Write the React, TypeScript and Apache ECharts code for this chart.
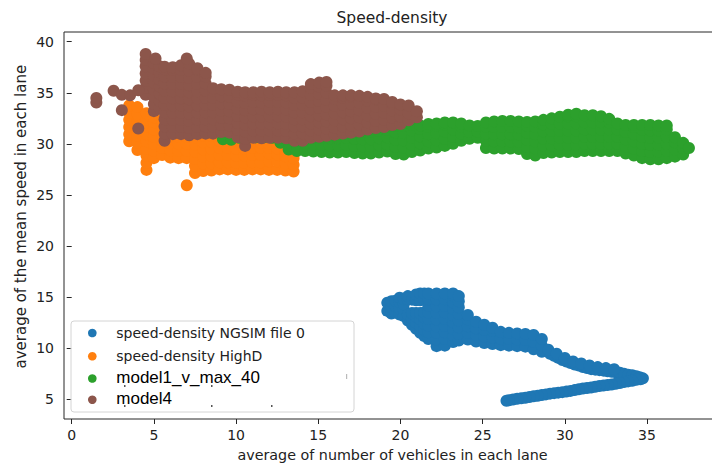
import React, { useEffect, useRef } from "react";
import * as echarts from "echarts";

// ---- axis ticks ----
const xTicks = [0, 5, 10, 15, 20, 25, 30, 35];
const yTicks = [5, 10, 15, 20, 25, 30, 35, 40];

// ---- series names ----
const seriesNames = [
  "speed-density NGSIM file 0",
  "speed-density HighD",
  "model1_v_max_40",
  "model4",
];
const seriesColors = ["#1f77b4", "#ff7f0e", "#2ca02c", "#8c564b"];

// Each column: [density, speed, speed, ...]
const ngsimColumns: number[][] = [
  [19.2, 13.65, 14.45],
  [19.45, 13.4, 14.0, 14.6],
  [19.7, 13.5, 14.1, 14.65],
  [19.95, 13.3, 13.9, 14.5, 14.95],
  [20.2, 13.15, 13.8, 14.3, 14.8],
  [20.45, 12.7, 13.3, 14.75, 15.1],
  [20.7, 12.3, 12.9, 13.45, 14.75],
  [20.95, 11.9, 12.5, 13.1, 13.45, 14.7, 15.25],
  [21.2, 11.5, 12.15, 12.8, 13.45, 14.7, 15.35],
  [21.45, 11.2, 11.8, 12.4, 13.0, 13.5, 14.75, 15.35],
  [21.7, 10.9, 11.55, 12.2, 12.85, 13.5, 14.15, 14.8, 15.35],
  [22.2, 10.2, 10.85, 11.5, 12.15, 12.8, 13.45, 14.1, 14.75, 15.35],
  [22.7, 10.25, 10.9, 11.55, 12.2, 12.85, 13.5, 14.15, 14.8, 15.35],
  [23.2, 10.6, 11.25, 11.9, 12.55, 13.2, 13.85, 14.5, 15.15, 15.35],
  [23.55, 10.75, 11.4, 12.05, 12.7, 13.35, 14.0, 14.6, 15.1],
  [24.1, 10.85, 11.5, 12.15, 12.8, 13.25],
  [24.6, 10.65, 11.3, 11.95, 12.6],
  [25.1, 10.5, 11.15, 11.8, 12.3],
  [25.6, 10.4, 11.05, 11.7, 12.0],
  [26.1, 10.3, 10.95, 11.6],
  [26.6, 10.25, 10.9, 11.5],
  [27.1, 10.2, 10.85, 11.45],
  [27.6, 10.15, 10.8, 11.4],
  [28.1, 9.9, 10.6, 11.3],
  [28.6, 9.65, 10.25, 10.9],
];
// the trail going right and coming back: [density, speed]
const ngsimTrail: number[][] = [
  [29.1, 9.45], [29.35, 9.25], [29.6, 9.05], [29.85, 8.85], [30.1, 8.7],
  [30.35, 8.55], [30.6, 8.4], [30.85, 8.3], [31.1, 8.15], [31.35, 8.05],
  [31.6, 7.95], [31.85, 7.9], [32.1, 7.85], [32.35, 7.8], [32.6, 7.75],
  [32.85, 7.7], [33.1, 7.65], [33.35, 7.6], [33.6, 7.5], [33.85, 7.4],
  [34.1, 7.35], [34.35, 7.25], [34.55, 7.15], [34.75, 7.05],
  [29.0, 9.85], [29.5, 9.45], [30.0, 9.05], [30.5, 8.7], [31.0, 8.5],
  [31.5, 8.3], [32.0, 8.15], [32.5, 8.05], [33.0, 7.95],
  [34.6, 6.95], [34.35, 6.9], [34.1, 6.82], [33.85, 6.75], [33.6, 6.68],
  [33.35, 6.6], [33.1, 6.52], [32.85, 6.45], [32.6, 6.4], [32.35, 6.35],
  [32.1, 6.3], [31.85, 6.22], [31.6, 6.15], [31.35, 6.1], [31.1, 6.05],
  [30.85, 5.98], [30.6, 5.9], [30.35, 5.82], [30.1, 5.75], [29.85, 5.7],
  [29.6, 5.65], [29.35, 5.6], [29.1, 5.55], [28.85, 5.48], [28.6, 5.42],
  [28.35, 5.35], [28.1, 5.3], [27.85, 5.22], [27.6, 5.15], [27.35, 5.1],
  [27.1, 5.05], [26.85, 4.98], [26.6, 4.9], [26.45, 4.85],
];

const highdColumns: number[][] = [
  [3.5, 30.25, 30.95, 31.65, 32.35, 33.05, 33.75],
  [4.0, 29.4, 30.1, 30.8, 31.5, 32.2, 32.9, 33.6],
  [4.55, 27.45, 28.15, 28.85, 29.55, 30.25, 30.95, 31.65, 32.35, 33.0],
  [5.0, 28.6, 29.3, 30.0, 30.7, 31.4, 32.1, 32.6],
  [5.5, 28.9, 29.6, 30.3, 31.0, 31.7, 32.3],
  [6.0, 28.65, 29.35, 30.05, 30.75, 31.3],
  [6.5, 28.6, 29.3, 30.0, 30.7, 31.2],
  [7.0, 25.95, 28.6, 29.3, 30.0, 30.7],
  [7.5, 27.15, 27.85, 28.55, 29.25, 29.95, 30.65],
  [8.0, 27.35, 28.05, 28.75, 29.45, 30.15, 30.8],
  [8.5, 27.4, 28.1, 28.8, 29.5, 30.2, 30.8],
  [9.0, 27.5, 28.2, 28.9, 29.6, 30.3, 30.8],
  [9.5, 27.5, 28.2, 28.9, 29.6, 30.3],
  [10.0, 27.45, 28.15, 28.85, 29.55, 30.2],
  [10.5, 27.45, 28.15, 28.85, 29.55, 30.1],
  [11.0, 27.5, 28.2, 28.9, 29.6, 30.1],
  [11.5, 27.5, 28.2, 28.9, 29.6, 30.1],
  [12.0, 27.45, 28.3, 29.05, 29.6, 30.0],
  [12.5, 27.45, 28.3, 28.95, 29.55],
  [13.0, 27.4, 28.1, 28.8, 29.4],
  [13.5, 27.3, 27.95, 28.6],
];

const model1Columns: number[][] = [
  [9.2, 30.45, 31.15],
  [9.7, 30.4, 31.1, 31.8],
  [10.2, 30.6, 31.3, 31.9],
  [10.7, 30.65, 31.35, 31.95],
  [11.2, 30.65, 31.35, 31.95],
  [11.7, 30.65, 31.35, 31.95],
  [12.2, 30.6, 31.3, 31.9],
  [12.7, 30.1, 30.8, 31.5, 32.0],
  [13.2, 29.45, 30.15, 30.85, 31.55],
  [13.7, 29.3, 30.0, 30.7, 31.4],
  [14.2, 29.3, 30.0, 30.7, 31.4],
  [14.7, 29.25, 29.95, 30.65, 31.35],
  [15.2, 29.2, 29.9, 30.6, 31.3],
  [15.7, 29.15, 29.85, 30.55, 31.25],
  [16.2, 29.15, 29.85, 30.55, 31.25],
  [16.7, 29.2, 29.9, 30.6, 31.3],
  [17.2, 29.1, 29.8, 30.5, 31.2, 31.9],
  [17.7, 29.05, 29.75, 30.45, 31.15, 31.85],
  [18.2, 29.05, 29.75, 30.45, 31.15, 31.85],
  [18.7, 29.15, 29.85, 30.55, 31.25, 31.9],
  [19.2, 29.25, 29.95, 30.65, 31.35, 31.9],
  [19.7, 29.0, 29.7, 30.4, 31.1, 31.8],
  [20.2, 28.95, 29.65, 30.35, 31.05, 31.75],
  [20.7, 29.2, 29.9, 30.6, 31.3, 31.85],
  [21.2, 29.35, 30.05, 30.75, 31.45, 31.8],
  [21.7, 29.55, 30.25, 30.95, 31.65, 31.95],
  [22.2, 29.65, 30.35, 31.05, 31.75, 32.0],
  [22.7, 29.8, 30.5, 31.2, 31.9, 32.1],
  [23.2, 30.0, 30.7, 31.4, 32.1],
  [23.7, 30.3, 31.0, 31.7, 32.0],
  [24.2, 30.5, 31.15, 31.8],
  [24.7, 30.6, 31.2, 31.75],
  [25.2, 29.6, 30.3, 31.0, 31.7, 32.1],
  [25.7, 29.55, 30.25, 30.95, 31.65, 32.2],
  [26.2, 29.55, 30.25, 30.95, 31.65, 32.25],
  [26.7, 29.55, 30.25, 30.95, 31.65, 32.25],
  [27.2, 29.5, 30.2, 30.9, 31.6, 32.2],
  [27.7, 29.0, 29.7, 30.4, 31.1, 31.8, 32.15],
  [28.2, 28.85, 29.55, 30.25, 30.95, 31.65, 32.2],
  [28.7, 29.1, 29.8, 30.5, 31.2, 31.9, 32.35],
  [29.2, 29.15, 29.85, 30.55, 31.25, 31.95, 32.5],
  [29.7, 29.2, 29.9, 30.6, 31.3, 32.0, 32.65],
  [30.2, 29.2, 29.9, 30.6, 31.3, 32.0, 32.7, 32.85],
  [30.7, 29.2, 29.9, 30.6, 31.3, 32.0, 32.7, 32.95],
  [31.2, 29.3, 30.0, 30.7, 31.4, 32.1, 32.8],
  [31.7, 29.3, 30.0, 30.7, 31.4, 32.1, 32.8],
  [32.2, 29.3, 30.0, 30.7, 31.4, 32.1, 32.7],
  [32.7, 29.3, 30.0, 30.7, 31.4, 32.1, 32.45],
  [33.2, 29.3, 30.0, 30.7, 31.4, 32.0],
  [33.7, 29.05, 29.75, 30.45, 31.15, 31.85],
  [34.2, 28.85, 29.55, 30.25, 30.95, 31.65, 31.85],
  [34.7, 28.6, 29.3, 30.0, 30.7, 31.4, 31.85],
  [35.2, 28.5, 29.2, 29.9, 30.6, 31.3, 31.85],
  [35.7, 28.5, 29.2, 29.9, 30.6, 31.3, 31.8],
  [36.2, 28.6, 29.3, 30.0, 30.7, 31.4, 31.8],
  [36.7, 28.75, 29.45, 30.15, 30.65],
  [37.2, 28.95, 29.6, 30.1],
  [37.55, 29.6],
];

const model4Columns: number[][] = [
  [4.5, 34.8, 35.5, 36.2, 36.9, 37.6, 38.2, 38.8],
  [5.0, 33.2, 33.9, 34.6, 35.3, 36.0, 36.7, 37.4, 37.9],
  [5.35, 33.5, 34.2, 34.9, 35.6, 36.3, 37.0, 37.6],
  [5.65, 30.3, 31.0, 31.7, 32.4, 33.1, 33.8, 34.5, 35.2, 35.9, 36.6, 37.3, 37.55],
  [6.15, 30.95, 31.65, 32.35, 33.05, 33.75, 34.45, 35.15, 35.85, 36.55, 37.25, 37.5],
  [6.65, 30.95, 31.65, 32.35, 33.05, 33.75, 34.45, 35.15, 35.85, 36.55, 37.25, 37.7],
  [7.15, 30.85, 31.55, 32.25, 32.95, 33.65, 34.35, 35.05, 35.75, 36.45, 37.15, 37.85],
  [7.65, 30.95, 31.65, 32.35, 33.05, 33.75, 34.45, 35.15, 35.85, 36.55, 37.25, 37.4],
  [8.15, 31.0, 31.7, 32.4, 33.1, 33.8, 34.5, 35.2, 35.9, 36.6, 36.95],
  [8.6, 31.0, 31.7, 32.4, 33.1, 33.8, 34.5, 35.2, 35.45],
  [9.1, 31.15, 31.85, 32.55, 33.25, 33.95, 34.65, 35.35],
  [9.6, 31.1, 31.8, 32.5, 33.2, 33.9, 34.6, 35.3],
  [10.1, 30.65, 31.35, 32.05, 32.75, 33.45, 34.15, 34.85, 35.1],
  [10.55, 29.8, 30.5, 31.2, 31.9, 32.6, 33.3, 34.0, 34.7, 35.05],
  [11.05, 30.6, 31.3, 32.0, 32.7, 33.4, 34.1, 34.8, 35.05],
  [11.55, 30.55, 31.25, 31.95, 32.65, 33.35, 34.05, 34.75, 35.1],
  [12.05, 30.6, 31.3, 32.0, 32.7, 33.4, 34.1, 34.8, 35.05],
  [12.55, 30.6, 31.3, 32.0, 32.7, 33.4, 34.1, 34.8, 35.1],
  [13.05, 30.55, 31.25, 31.95, 32.65, 33.35, 34.05, 34.75, 35.05],
  [13.55, 30.3, 31.0, 31.7, 32.4, 33.1, 33.8, 34.5, 35.05],
  [14.05, 30.3, 31.0, 31.7, 32.4, 33.1, 33.8, 34.5, 35.15],
  [14.55, 30.6, 31.3, 32.0, 32.7, 33.4, 34.1, 34.8, 35.5, 35.85],
  [15.05, 30.7, 31.4, 32.1, 32.8, 33.5, 34.2, 34.9, 35.6, 36.0],
  [15.5, 30.8, 31.5, 32.2, 32.9, 33.6, 34.3, 35.0, 35.7, 36.05],
  [16.0, 30.9, 31.6, 32.3, 33.0, 33.7, 34.4, 34.75],
  [16.5, 31.0, 31.7, 32.4, 33.1, 33.8, 34.5, 34.75],
  [17.0, 31.1, 31.8, 32.5, 33.2, 33.9, 34.6, 34.75],
  [17.5, 31.2, 31.9, 32.6, 33.3, 34.0, 34.7],
  [18.0, 31.4, 32.1, 32.8, 33.5, 34.2, 34.6],
  [18.5, 31.55, 32.25, 32.95, 33.65, 34.35, 34.45],
  [19.0, 31.65, 32.35, 33.05, 33.75, 34.4],
  [19.5, 31.85, 32.55, 33.25, 33.95, 34.1],
  [20.0, 31.95, 32.65, 33.35, 33.85],
  [20.5, 32.3, 33.0, 33.75],
  [21.0, 32.6, 33.2],
];
// scattered single points of model4: [density, speed]
const model4Dots: number[][] = [
  [1.5, 34.05], [1.5, 34.5], [2.55, 35.2], [3.05, 34.8], [3.55, 34.75],
  [3.05, 33.3], [4.05, 35.25], [4.05, 31.5], [5.1, 38.35], [7.0, 38.35],
];

const columnsToPoints = (cols: number[][]) =>
  cols.flatMap(([x, ...ys]) => ys.map((y) => [x, y]));

const TEXT = "#222222";
const FONT = "DejaVu Sans";

export default function App() {
  const ref = useRef<HTMLDivElement>(null);

  useEffect(() => {
    document.body.style.margin = "0";
    const chart = echarts.init(ref.current!, null, { renderer: "svg" });

    const seriesData = [
      [...columnsToPoints(ngsimColumns), ...ngsimTrail],
      columnsToPoints(highdColumns),
      columnsToPoints(model1Columns),
      [...columnsToPoints(model4Columns), ...model4Dots],
    ];

    const legendRows = [333, 356.3, 378.5, 399.7];
    const legendGraphics: any[] = [
      {
        type: "rect",
        shape: { x: 71, y: 321, width: 283, height: 91, r: 3 },
        style: { fill: "rgba(255,255,255,0.8)", stroke: "#d4d4d4", lineWidth: 1 },
        z: 100,
      },
    ];
    seriesNames.forEach((name, i) => {
      legendGraphics.push({
        type: "circle",
        shape: { cx: 92.3, cy: legendRows[i], r: 4.3 },
        style: { fill: seriesColors[i] },
        z: 101,
      });
      const arial = i >= 2;
      legendGraphics.push({
        type: "text",
        x: 116.3,
        y: legendRows[i] + (arial ? -1 : 0),
        z: 101,
        style: {
          text: name,
          fill: arial ? "#000" : TEXT,
          fontSize: arial ? 17 : 14,
          fontFamily: arial ? "Liberation Sans" : FONT,
          align: "left",
          verticalAlign: "middle",
        },
      });
    });
    // small stray marks inside the legend box
    [
      [346, 374, 1.2, 5],
      [124, 385, 1.5, 2],
      [211, 385, 1.5, 2],
      [124, 405, 1.5, 2],
      [211, 405, 1.5, 2],
      [271, 405, 1.5, 2],
    ].forEach(([x, y, w, h]) =>
      legendGraphics.push({
        type: "rect",
        shape: { x, y, width: w, height: h },
        style: { fill: x === 346 ? "#bbbbbb" : "#555555" },
        z: 101,
      })
    );

    const option: any = {
      animation: false,
      backgroundColor: "#ffffff",
      grid: {
        left: 64,
        top: 32,
        width: 657,
        height: 387,
        show: true,
        borderColor: "#262626",
        borderWidth: 1,
        backgroundColor: "transparent",
        outerBoundsMode: "none",
        containLabel: false,
      },
      xAxis: {
        type: "value",
        min: -0.468,
        max: 39.5,
        axisLine: { show: false },
        splitLine: { show: false },
        axisTick: {
          show: true,
          customValues: xTicks,
          length: 5,
          lineStyle: { color: "#262626", width: 1 },
        },
        axisLabel: {
          customValues: xTicks,
          margin: 9,
          fontSize: 14,
          fontFamily: FONT,
          color: TEXT,
        },
      },
      yAxis: {
        type: "value",
        min: 3.07,
        max: 40.95,
        axisLine: { show: false },
        splitLine: { show: false },
        axisTick: {
          show: true,
          customValues: yTicks,
          length: 5,
          lineStyle: { color: "#262626", width: 1 },
        },
        axisLabel: {
          customValues: yTicks,
          margin: 10,
          fontSize: 14,
          fontFamily: FONT,
          color: TEXT,
        },
      },
      series: seriesNames.map((name, i) => ({
        name,
        type: "scatter",
        data: seriesData[i],
        symbol: "circle",
        symbolSize: 12,
        silent: true,
        itemStyle: { color: seriesColors[i], opacity: 1 },
        z: 2 + i,
      })),
      graphic: [
        {
          type: "text",
          x: 392,
          y: 18,
          style: {
            text: "Speed-density",
            fill: TEXT,
            fontSize: 15.5,
            fontFamily: FONT,
            align: "center",
            verticalAlign: "middle",
          },
        },
        {
          type: "text",
          x: 392.5,
          y: 455,
          style: {
            text: "average of number of vehicles in each lane",
            fill: TEXT,
            fontSize: 14.3,
            fontFamily: FONT,
            align: "center",
            verticalAlign: "middle",
          },
        },
        {
          type: "text",
          x: 21,
          y: 216.7,
          rotation: Math.PI / 2,
          style: {
            text: "average of the mean speed in each lane",
            fill: TEXT,
            fontSize: 15,
            fontFamily: FONT,
            align: "center",
            verticalAlign: "middle",
          },
        },
        ...legendGraphics,
      ],
    };

    chart.setOption(option);
    return () => chart.dispose();
  }, []);

  return (
    <div
      ref={ref}
      style={{ position: "fixed", left: 0, top: 0, width: 712, height: 468, background: "#fff" }}
    />
  );
}
